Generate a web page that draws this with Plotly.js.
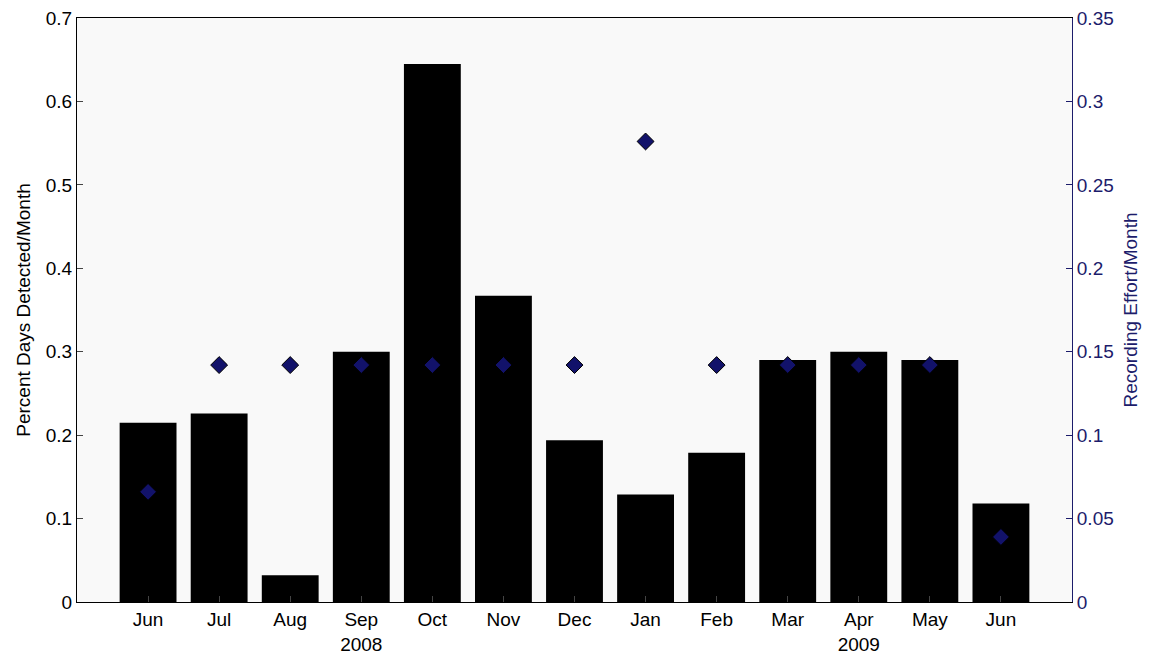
<!DOCTYPE html>
<html>
<head>
<meta charset="utf-8">
<script src="https://cdn.plot.ly/plotly-3.0.1.min.js"></script>
<style>body{margin:0;background:#fff}#chart{width:1156px;height:655px}</style>
</head>
<body>
<div id="chart"></div>
<script>
// -----------------------
// Datos
// -----------------------
const months = ["Jun", "Jul", "Aug", "Sep<br>2008", "Oct", "Nov", "Dec", "Jan", "Feb", "Mar", "Apr<br>2009", "May", "Jun"];
const pctDetected = [0.215, 0.226, 0.032, 0.300, 0.645, 0.367, 0.194, 0.129, 0.179, 0.290, 0.300, 0.290, 0.118];
const effort = [0.066, 0.142, 0.142, 0.142, 0.142, 0.142, 0.142, 0.276, 0.142, 0.142, 0.142, 0.142, 0.039];

const xs = months.map((_, i) => i + 1);
const navy = "#1c1c6b";

const bars = {
  x: xs, y: pctDetected, type: "bar", width: 0.8,
  marker: { color: "#000" }, hoverinfo: "y"
};
const diamonds = {
  x: xs, y: effort, type: "scatter", mode: "markers", yaxis: "y2",
  marker: { symbol: "diamond", size: 13, color: "#12126a", line: { color: "#000", width: 1 } }
};

Plotly.newPlot("chart", [bars, diamonds], {
  width: 1156, height: 655,
  margin: { l: 77, r: 84, t: 18, b: 53 },
  paper_bgcolor: "#fff",
  plot_bgcolor: "#f9f9f9",
  showlegend: false,
  font: { family: "Liberation Sans, Arial", size: 19, color: "#000" },
  xaxis: {
    range: [0, 14], tickvals: xs, ticktext: months,
    ticks: "inside", ticklen: 6, showgrid: false, zeroline: false,
    showline: true, mirror: true, linecolor: "#000", tickfont: { size: 19 }
  },
  yaxis: {
    range: [0, 0.7], dtick: 0.1, ticks: "inside", ticklen: 6,
    showgrid: false, zeroline: false, showline: true, linecolor: "#000",
    title: { text: "Percent Days Detected/Month", font: { size: 19 }, standoff: 10 }
  },
  yaxis2: {
    overlaying: "y", side: "right", range: [0, 0.35], dtick: 0.05,
    ticks: "inside", ticklen: 6, showgrid: false, zeroline: false,
    showline: true, linecolor: navy, color: navy,
    tickfont: { color: navy, size: 19 },
    title: { text: "Recording Effort/Month", font: { color: navy, size: 19 }, standoff: 10 }
  }
}, { displayModeBar: false });
</script>
</body>
</html>
